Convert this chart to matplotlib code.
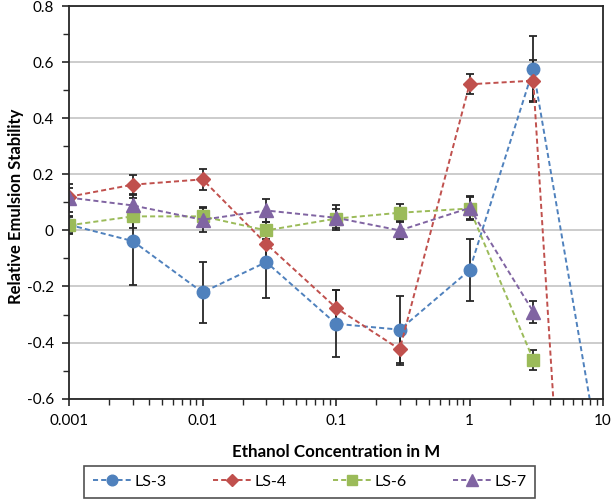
import numpy as np
import matplotlib
matplotlib.use('Agg')
import matplotlib.pyplot as plt
from matplotlib.ticker import FixedLocator, NullFormatter

plt.rcParams['font.family'] = ['Lato', 'DejaVu Sans']

conc = [0.001, 0.003, 0.01, 0.03, 0.1, 0.3, 1, 3, 10]

ls3 = [0.02, -0.038, -0.221, -0.113, -0.333, -0.354, -0.142, 0.575, -0.88]
ls3_err = [0.03, 0.155, 0.11, 0.127, 0.12, 0.12, 0.11, 0.118, 0.0]

ls4 = [0.12, 0.163, 0.182, -0.048, -0.276, -0.424, 0.521, 0.534, -3.42]
ls4_err = [0.03, 0.036, 0.038, 0.05, 0.062, 0.055, 0.035, 0.073, 0.0]

ls6 = [0.018, 0.05, 0.05, 0.0, 0.042, 0.063, 0.078, -0.461]
ls6_err = [0.03, 0.04, 0.035, 0.03, 0.035, 0.032, 0.04, 0.036]

ls7 = [0.117, 0.089, 0.038, 0.071, 0.045, 0.0, 0.08, -0.29]
ls7_err = [0.05, 0.04, 0.043, 0.04, 0.044, 0.032, 0.041, 0.04]

series = [
    ('LS-3', conc, ls3, ls3_err, '#4F81BD', 'o', 9),
    ('LS-4', conc, ls4, ls4_err, '#C0504D', 'D', 7.5),
    ('LS-6', conc[:8], ls6, ls6_err, '#9BBB59', 's', 8.5),
    ('LS-7', conc[:8], ls7, ls7_err, '#8064A2', '^', 9.5),
]

fig = plt.figure(figsize=(6.11, 5.04), dpi=100)
ax = fig.add_axes([0.113, 0.209, 0.874, 0.779])

handles = []
for name, x, y, err, col, mk, ms in series:
    line, caps, bars = ax.errorbar(x, y, yerr=err, fmt=mk, linestyle='--', color=col,
                                   ms=ms, mec=col, lw=1.4, ecolor='#262626',
                                   elinewidth=1.3, capsize=3, capthick=1.3,
                                   dashes=(2.6, 1.6), label=name)
    handles.append(line)

ax.set_xscale('log')
ax.set_xlim(0.001, 10)
ax.set_ylim(-0.6, 0.8)
ax.set_yticks(np.arange(-0.6, 0.81, 0.2))
ax.set_yticklabels(['-0.6', '-0.4', '-0.2', '0', '0.2', '0.4', '0.6', '0.8'])
ax.yaxis.set_minor_locator(FixedLocator(np.arange(-0.5, 0.8, 0.2)))
ax.set_xticks([0.001, 0.01, 0.1, 1, 10])
ax.set_xticklabels(['0.001', '0.01', '0.1', '1', '10'])
ax.xaxis.set_minor_formatter(NullFormatter())

ax.grid(axis='y', which='major', color='#BFBFBF', lw=1.1)
ax.set_axisbelow(True)
ax.tick_params(axis='both', which='major', direction='out', length=5, width=1.2,
               labelsize=11, color='#262626', pad=6)
ax.tick_params(axis='both', which='minor', direction='out', length=4, width=1.0,
               color='#262626')
for s in ax.spines.values():
    s.set_color('#262626')
    s.set_linewidth(1.3)

ax.set_xlabel('Ethanol Concentration in M', fontsize=12.2, fontweight='bold')
ax.set_ylabel('Relative Emulsion Stability', fontsize=12, fontweight='bold')
# place axis titles where they sit in the original
ax.xaxis.set_label_coords(0.5, -0.115)
ax.yaxis.set_label_coords(-0.085, 0.49)

leg = fig.legend(handles, [s[0] for s in series], loc='center',
                 bbox_to_anchor=(0.507, 0.044), ncol=4, fontsize=11.5,
                 frameon=True, fancybox=False, edgecolor='#262626', handlelength=2.4,
                 handletextpad=0.2, columnspacing=2.9, borderpad=0.55,
                 borderaxespad=0, markerscale=0.85)
leg.get_frame().set_linewidth(1.2)

fig.savefig('out.png', dpi=100)
